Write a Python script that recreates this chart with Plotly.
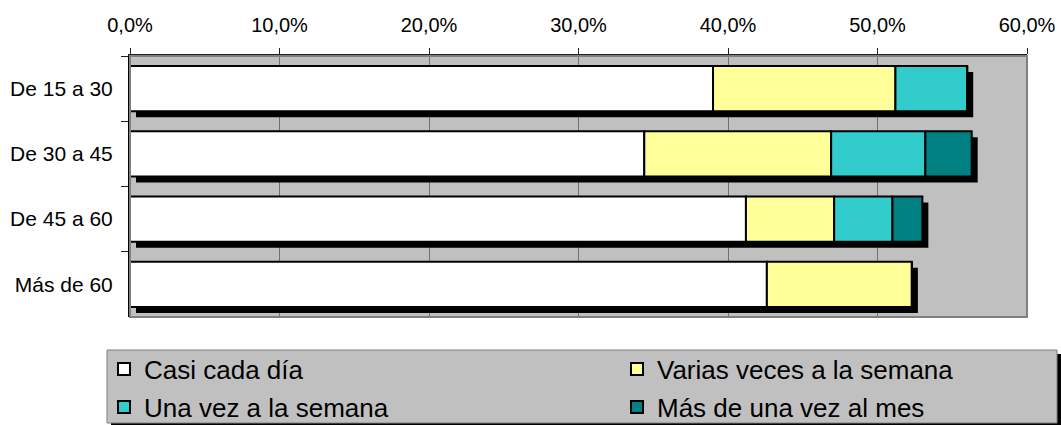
import numpy as np
import plotly.graph_objects as go

categories = ["De 15 a 30", "De 30 a 45", "De 45 a 60", "Más de 60"]
series_names = ["Casi cada día", "Varias veces a la semana", "Una vez a la semana", "Más de una vez al mes"]
casi_cada_dia = [39.0, 34.4, 41.2, 42.6]
varias_veces = [12.2, 12.5, 5.9, 9.7]
una_vez = [4.8, 6.3, 3.9, 0.0]
mas_una_vez_mes = [0.0, 3.1, 2.0, 0.0]
tick_values = [0, 10, 20, 30, 40, 50, 60]
tick_labels = ["0,0%", "10,0%", "20,0%", "30,0%", "40,0%", "50,0%", "60,0%"]

colors = ["#FFFFFF", "#FFFF99", "#33CCCC", "#008080"]
series = [casi_cada_dia, varias_veces, una_vez, mas_una_vez_mes]

W, H = 1061, 425
ML, MR, MT, MB = 130, 34, 56, 108
plot_w = W - ML - MR
plot_h = H - MT - MB
bar_w = 0.69
shadow_px = 6
x_range = [0, 60]
shadow_dx = shadow_px * (x_range[1] - x_range[0]) / plot_w
shadow_dy = shadow_px * len(categories) / plot_h

totals = np.sum(np.array(series), axis=0)

fig = go.Figure()

# drop shadow behind each stacked bar
fig.add_trace(go.Bar(
    y=categories, x=totals, base=[shadow_dx] * len(categories), orientation="h",
    width=bar_w, offset=-bar_w / 2 + shadow_dy,
    marker=dict(color="#000000", line=dict(width=0)),
    showlegend=False, hoverinfo="skip",
))

# legend placement (container pixel positions -> fractions)
legend_pos = [(104, 369), (617, 369), (104, 407), (617, 407)]
legend_ids = ["legend", "legend2", "legend3", "legend4"]

base = np.zeros(len(categories))
for name, vals, col, lid in zip(series_names, series, colors, legend_ids):
    fig.add_trace(go.Bar(
        y=categories, x=vals, base=base.copy(), orientation="h", name=name,
        width=bar_w, offset=-bar_w / 2, legend=lid,
        marker=dict(color=col, line=dict(color="#000000", width=2)),
    ))
    base = base + np.array(vals)

legend_font = dict(size=26, family="Liberation Sans, Arial, sans-serif", color="#000000")
legends = {}
for lid, (px, py) in zip(legend_ids, legend_pos):
    legends[lid] = dict(
        xref="container", yref="container", x=px / W, y=1 - py / H,
        xanchor="left", yanchor="middle", orientation="h",
        bgcolor="rgba(0,0,0,0)", borderwidth=0, font=legend_font,
    )

def px_to_paper_x(px):
    return (px - ML) / plot_w

def py_to_paper_y(py):
    return (H - MB - py) / plot_h

lg_l, lg_r, lg_t, lg_b = 107, 1057, 350, 423
shapes = [
    # legend shadow
    dict(type="rect", xref="paper", yref="paper", layer="below",
         x0=px_to_paper_x(lg_l + 4), x1=px_to_paper_x(lg_r + 4),
         y0=py_to_paper_y(lg_b + 4), y1=py_to_paper_y(lg_t + 4),
         fillcolor="#000000", line=dict(width=0)),
    # legend box
    dict(type="rect", xref="paper", yref="paper", layer="below",
         x0=px_to_paper_x(lg_l), x1=px_to_paper_x(lg_r),
         y0=py_to_paper_y(lg_b), y1=py_to_paper_y(lg_t),
         fillcolor="#C0C0C0", line=dict(color="#808080", width=1)),
    # plot area right/bottom border
    dict(type="rect", xref="paper", yref="paper", layer="above",
         x0=0, x1=1, y0=0, y1=1, line=dict(color="#808080", width=2)),
]

fig.update_layout(
    width=W, height=H,
    margin=dict(l=ML, r=MR, t=MT, b=MB, autoexpand=False),
    barmode="overlay",
    paper_bgcolor="#FFFFFF",
    plot_bgcolor="#C0C0C0",
    font=dict(family="Liberation Sans, Arial, sans-serif", size=20, color="#000000"),
    xaxis=dict(
        side="top", range=x_range, tickmode="array", tickvals=tick_values, ticktext=tick_labels,
        showgrid=True, gridcolor="#707070", gridwidth=1,
        showline=True, linecolor="#202020", linewidth=2,
        ticks="outside", ticklen=6, tickcolor="#202020", ticklabelstandoff=8,
        tickfont=dict(size=20),
        zeroline=False, fixedrange=True,
    ),
    yaxis=dict(
        autorange="reversed", showgrid=False, zeroline=False,
        showline=True, linecolor="#000000", linewidth=2,
        ticks="outside", tickson="boundaries", ticklen=7, tickcolor="#202020",
        ticklabelstandoff=11, tickfont=dict(size=21), fixedrange=True,
    ),
    shapes=shapes,
    **legends,
)

fig.write_html(
    "out.html",
    config={"displayModeBar": False},
    post_script="document.body.style.margin='0';document.body.style.overflow='hidden';",
)
